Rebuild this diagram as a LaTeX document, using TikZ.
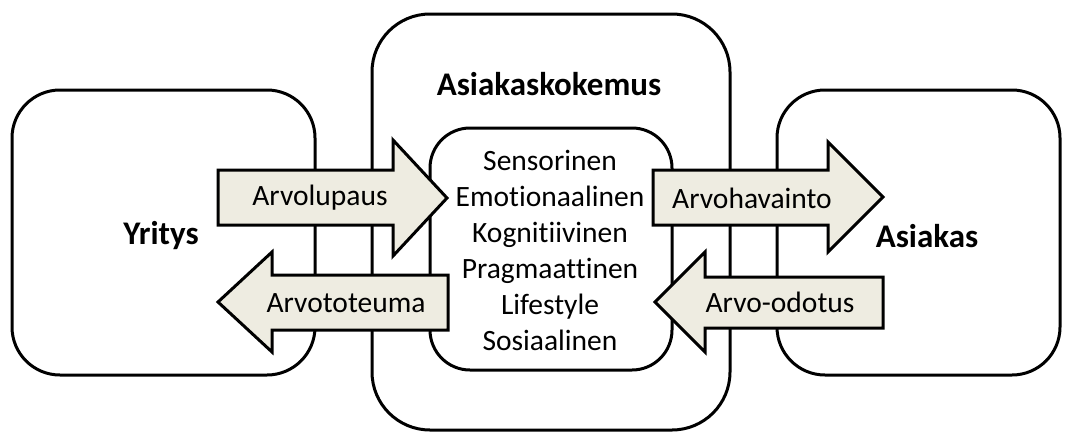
\documentclass[tikz,border=0pt]{standalone}
\usepackage{fontspec}
\setmainfont{Carlito}[Ligatures=NoCommon]
\definecolor{arrowfill}{HTML}{EEECE1}
\begin{document}
\begin{tikzpicture}[x=1pt,y=-1pt,
  panel/.style={draw=black,line width=3pt,fill=white,inner sep=0pt},
  flow/.style={draw=black,line width=3pt,fill=arrowfill,line join=miter},
  flowlabel/.style={font=\fontsize{29.5}{36}\selectfont,inner sep=0pt},
  title/.style={font=\fontsize{33}{38}\selectfont\bfseries,inner sep=0pt}]
\useasboundingbox (0,0) rectangle (1070,439);

% outer panels
\node[panel,rounded corners=48,minimum width=303pt,minimum height=285pt] (yritysbox) at (163.5,232.5) {};
\node[panel,rounded corners=48,minimum width=283pt,minimum height=285pt] (asiakasbox) at (918.5,232.5) {};
\node[panel,rounded corners=58,minimum width=358pt,minimum height=416pt] (kokemusbox) at (551,222) {};
\node[panel,rounded corners=40,minimum width=242pt,minimum height=242pt] (listbox) at (551,249) {};

% titles
\node[title] (yritys) at (161,236) {Yritys};
\node[title] (asiakas) at (927,236) {Asiakas};
\node[title] (kokemus) at (549,84) {Asiakaskokemus};

% experience dimensions
\node[flowlabel,align=center] (dims) at (550,250)
  {Sensorinen\\Emotionaalinen\\Kognitiivinen\\Pragmaattinen\\Lifestyle\\Sosiaalinen};

% block arrows
\draw[flow] (218,170) -- (393,170) -- (393,140) -- (447,198) -- (393,256) -- (393,225) -- (218,225) -- cycle;
\draw[flow] (448,275) -- (272,275) -- (272,252) -- (218,302) -- (272,352) -- (272,330) -- (448,330) -- cycle;
\draw[flow] (653,170) -- (828,170) -- (828,142) -- (883,197) -- (828,252) -- (828,225) -- (653,225) -- cycle;
\draw[flow] (883,277) -- (705,277) -- (705,252) -- (655,302) -- (705,352) -- (705,328) -- (883,328) -- cycle;

\node[flowlabel] (lupaus) at (320,198) {Arvolupaus};
\node[flowlabel] (toteuma) at (346,303) {Arvototeuma};
\node[flowlabel] (havainto) at (752,198) {Arvohavainto};
\node[flowlabel] (odotus) at (780,302) {Arvo-odotus};
\end{tikzpicture}
\end{document}
